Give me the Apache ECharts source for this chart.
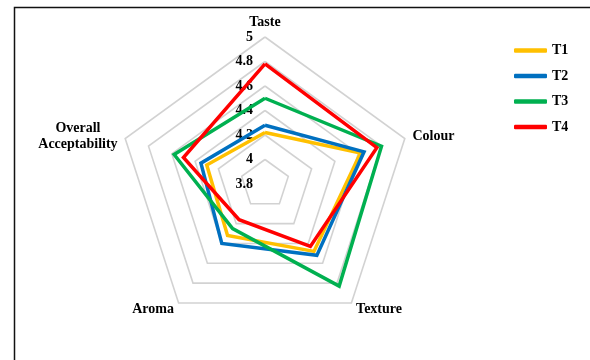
<!DOCTYPE html>
<html>
<head>
<meta charset="utf-8">
<script src="https://cdn.jsdelivr.net/npm/echarts@6/dist/echarts.min.js"></script>
<style>
  html, body { margin: 0; padding: 0; background: #fff; }
  #chart { width: 590px; height: 360px; }
</style>
</head>
<body>
<div id="chart"></div>
<script>
// Sensory attributes, listed clockwise from the top
const categories = ['Taste', 'Colour', 'Texture', 'Aroma', 'Overall Acceptability'];
const seriesNames = ['T1', 'T2', 'T3', 'T4'];
const t1 = [4.22, 4.62, 4.48, 4.32, 4.30];
const t2 = [4.28, 4.65, 4.52, 4.40, 4.35];
const t3 = [4.50, 4.80, 4.83, 4.25, 4.58];
const t4 = [4.78, 4.76, 4.43, 4.16, 4.50];
const tickValues = [3.8, 4, 4.2, 4.4, 4.6, 4.8, 5];

const colors = ['#FFC000', '#0070C0', '#00B050', '#FF0000'];
const FONT = '"Liberation Serif", "Times New Roman", serif';
const FS = 14;

// ECharts lays radar axes out counter-clockwise; reverse to go clockwise
const order = [0].concat(categories.map((_, i) => i).slice(1).reverse());
const vmin = tickValues[0];
const vmax = tickValues[tickValues.length - 1];
const step = tickValues[1] - tickValues[0];

const indicator = order.map((idx, k) => {
  const ind = { name: categories[idx], min: vmin, max: vmax };
  if (k === 0) {
    ind.axisLabel = {
      show: true,
      color: '#000',
      fontFamily: FONT,
      fontWeight: 'bold',
      fontSize: FS,
      align: 'right',
      verticalAlign: 'middle',
      margin: 12,
      formatter: v => String(+v.toFixed(1))
    };
  }
  return ind;
});

const allValues = [t1, t2, t3, t4];

const chart = echarts.init(document.getElementById('chart'), null, { renderer: 'canvas' });
chart.setOption({
  animation: false,
  backgroundColor: '#fff',
  graphic: [{
    type: 'rect',
    shape: { x: 14.5, y: 7.5, width: 620, height: 400 },
    style: { fill: 'none', stroke: '#111', lineWidth: 1.5 },
    silent: true
  }],
  legend: {
    orient: 'vertical',
    left: 509,
    top: 38.5,
    itemWidth: 33,
    itemHeight: 4.5,
    itemGap: 11.5,
    icon: 'roundRect',
    data: seriesNames,
    textStyle: {
      color: '#000',
      fontFamily: FONT,
      fontWeight: 'bold',
      fontSize: FS,
      lineHeight: 14
    }
  },
  radar: {
    center: [265, 184],
    radius: 147,
    startAngle: 90,
    shape: 'polygon',
    splitNumber: Math.round((vmax - vmin) / step),
    nameGap: 8,
    axisName: {
      color: '#000',
      fontFamily: FONT,
      fontWeight: 'bold',
      fontSize: FS,
      formatter: name => name === 'Overall Acceptability'
        ? '{c|Overall}\n{c|Acceptability}'
        : name,
      rich: {
        c: {
          align: 'center',
          color: '#000',
          fontFamily: FONT,
          fontWeight: 'bold',
          fontSize: FS,
          lineHeight: 16
        }
      }
    },
    axisLine: { show: false },
    axisTick: { show: false },
    axisLabel: { show: false },
    splitLine: { lineStyle: { color: '#d2d2d2', width: 1.6 } },
    splitArea: { show: false },
    indicator: indicator
  },
  series: [{
    type: 'radar',
    symbol: 'none',
    silent: true,
    data: allValues.map((vals, s) => ({
      name: seriesNames[s],
      value: order.map(i => vals[i]),
      lineStyle: { color: colors[s], width: 3.5, join: 'miter' },
      itemStyle: { color: colors[s] }
    }))
  }]
});
</script>
</body>
</html>
